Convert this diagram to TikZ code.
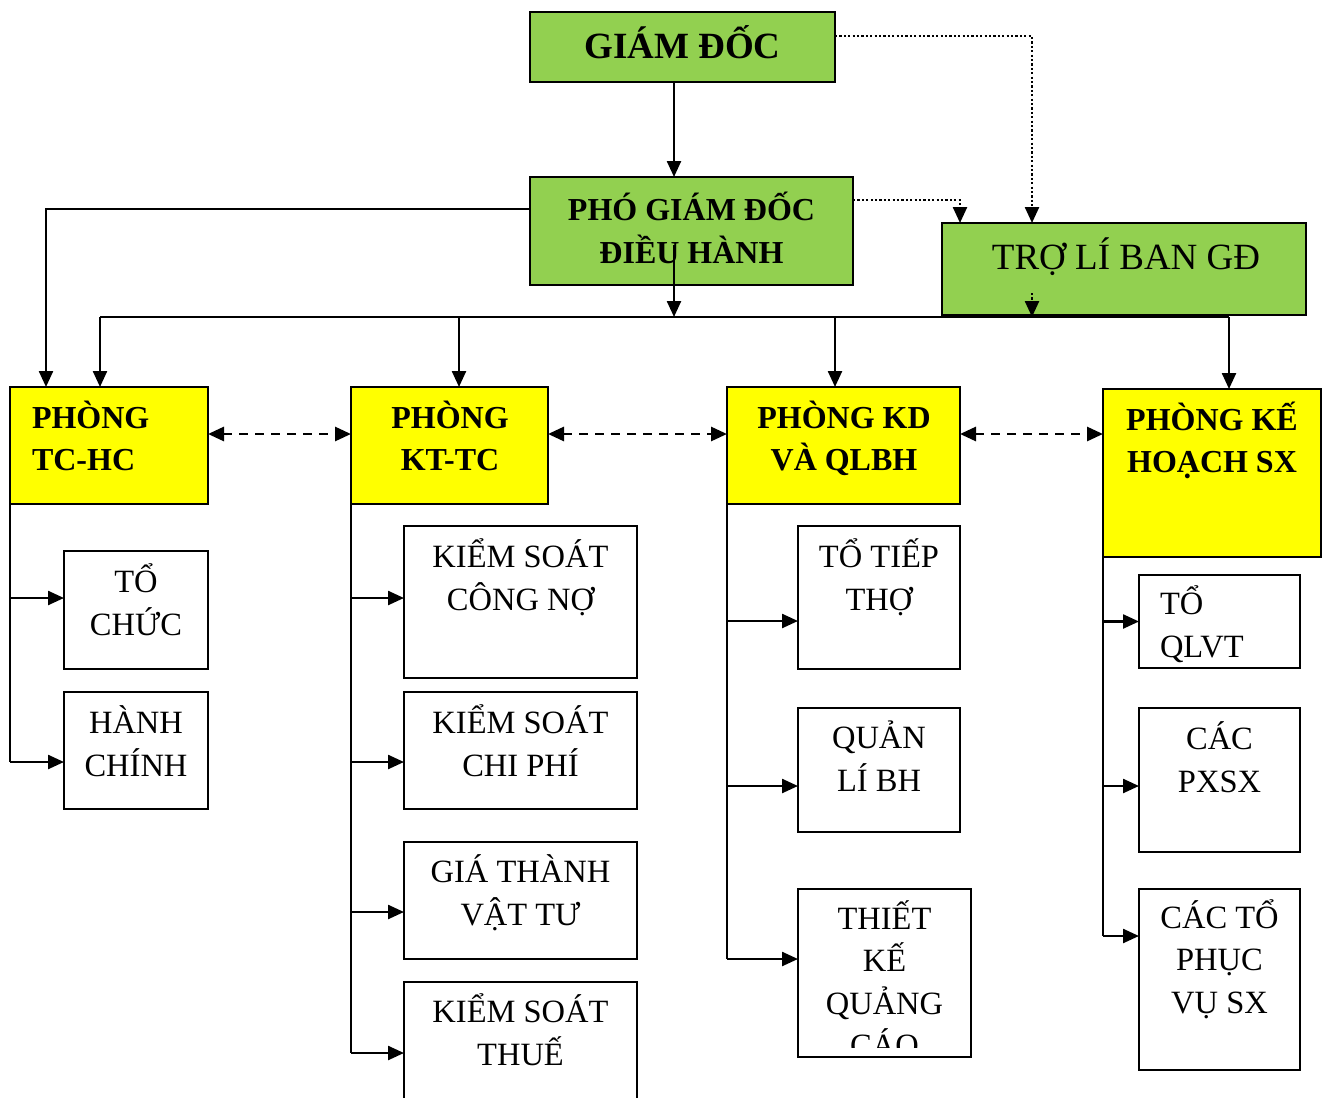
\documentclass[tikz,border=0pt]{standalone}
\usepackage{fontspec}
\setmainfont{Liberation Serif}
\usetikzlibrary{arrows.meta}
\definecolor{boxgreen}{HTML}{92D050}
\definecolor{boxyellow}{HTML}{FFFF00}

\begin{document}
\begin{tikzpicture}[x=1pt,y=-1pt,
  box/.style={draw=black, line width=2.2pt, rectangle, inner sep=0pt, outer sep=0pt, anchor=north west},
  greenbox/.style={box, fill=boxgreen},
  yellowbox/.style={box, fill=boxyellow},
  whitebox/.style={box, fill=white},
  txt/.style={inner sep=0pt, outer sep=0pt, align=center, anchor=base, font={\fontsize{32.5}{43}\selectfont}},
  hdr/.style={txt, font={\fontsize{32}{42}\selectfont\bfseries}},
  tip/.tip={Triangle[length=16pt,width=14pt]},
  conn/.style={line width=2.4pt},
  arr/.style={conn, -tip},
  dotarr/.style={line width=2.4pt, dash pattern=on 2.2pt off 2.2pt, -tip},
  dasharr/.style={line width=2.8pt, dash pattern=on 9pt off 7pt, tip-tip}]

\useasboundingbox (0,0) rectangle (1326,1098);
\fill[white] (0,0) rectangle (1326,1098);
\clip (0,0) rectangle (1326,1098);

% management level
\node[greenbox, minimum width=305pt, minimum height=70pt] (gd) at (530,12) {};
\node[greenbox, minimum width=323pt, minimum height=108pt] (pgd) at (530,177) {};
\node[greenbox, minimum width=364pt, minimum height=92pt] (tro) at (942,223) {};

% departments
\node[yellowbox, minimum width=198pt, minimum height=117pt] (tchc) at (10,387) {};
\node[yellowbox, minimum width=197pt, minimum height=117pt] (ktc) at (351,387) {};
\node[yellowbox, minimum width=233pt, minimum height=117pt] (kd) at (727,387) {};
\node[yellowbox, minimum width=218pt, minimum height=168pt] (kh) at (1103,389) {};

% units
\node[whitebox, minimum width=144pt, minimum height=118pt] (tochuc) at (64,551) {};
\node[whitebox, minimum width=144pt, minimum height=117pt] (hc) at (64,692) {};
\node[whitebox, minimum width=233pt, minimum height=152pt] (ksno) at (404,526) {};
\node[whitebox, minimum width=233pt, minimum height=117pt] (kscp) at (404,692) {};
\node[whitebox, minimum width=233pt, minimum height=117pt] (gtvt) at (404,842) {};
\node[whitebox, minimum width=233pt, minimum height=140pt] (ksthue) at (404,982) {};
\node[whitebox, minimum width=162pt, minimum height=143pt] (totiep) at (798,526) {};
\node[whitebox, minimum width=162pt, minimum height=124pt] (qlbh) at (798,708) {};
\node[whitebox, minimum width=173pt, minimum height=168pt] (tkqc) at (798,889) {};
\node[whitebox, minimum width=161pt, minimum height=93pt] (qlvt) at (1139,575) {};
\node[whitebox, minimum width=161pt, minimum height=144pt] (pxsx) at (1139,708) {};
\node[whitebox, minimum width=161pt, minimum height=181pt] (phucvu) at (1139,889) {};

% labels (each placed at the baseline of its last line)
\node[txt, font={\fontsize{37}{43}\selectfont\bfseries}] (gd-t) at (682.5,58) {GIÁM ĐỐC};
\node[hdr, font={\fontsize{32}{43}\selectfont\bfseries}] (pgd-t) at (691.5,263) {PHÓ GIÁM ĐỐC\\ĐIỀU HÀNH};
\node[txt, font={\fontsize{37}{43}\selectfont}] (tro-t) at (1126,269) {TRỢ LÍ BAN GĐ};

\node[hdr, align=left, anchor=base west] (tchc-t) at (32,470) {PHÒNG\\TC-HC};
\node[hdr] (ktc-t) at (450,470) {PHÒNG\\KT-TC};
\node[hdr] (kd-t) at (844,470) {PHÒNG KD\\VÀ QLBH};
\node[hdr] (kh-t) at (1212,472) {PHÒNG KẾ\\HOẠCH SX};

\node[txt] (tochuc-t) at (136,635) {TỔ\\CHỨC};
\node[txt] (hc-t) at (136,776) {HÀNH\\CHÍNH};
\node[txt] (ksno-t) at (520.5,610) {KIỂM SOÁT\\CÔNG NỢ};
\node[txt] (kscp-t) at (520.5,776) {KIỂM SOÁT\\CHI PHÍ};
\node[txt] (gtvt-t) at (520.5,925) {GIÁ THÀNH\\VẬT TƯ};
\node[txt] (ksthue-t) at (520.5,1065) {KIỂM SOÁT\\THUẾ};
\node[txt] (totiep-t) at (879,610) {TỔ TIẾP\\THỢ};
\node[txt] (qlbh-t) at (879,791) {QUẢN\\LÍ BH};
\begin{scope}
  \clip (798,889) rectangle (971,1047);
  \node[txt, font={\fontsize{32.5}{42.5}\selectfont}] (tkqc-t) at (884.5,1056.5) {THIẾT\\KẾ\\QUẢNG\\CÁO};
\end{scope}
\node[txt, align=left, anchor=base west] (qlvt-t) at (1160,657) {TỔ\\QLVT};
\node[txt] (pxsx-t) at (1219.5,792) {CÁC\\PXSX};
\node[txt, font={\fontsize{32.5}{42.5}\selectfont}] (phucvu-t) at (1219.5,1013) {CÁC TỔ\\PHỤC\\VỤ SX};

% top connectors
\draw[arr] ([xshift=-8.5pt]gd.south) -- ([xshift=-8.5pt]gd.south |- pgd.north);
\draw[dotarr] ([yshift=11pt]gd.east) -| ([xshift=-92pt]tro.north);
\draw[dotarr] ([yshift=31pt]pgd.east) -| ([xshift=-164pt]tro.north);
\draw[arr] ([yshift=22pt]pgd.west) -| ([xshift=-63pt]tchc.north);

% distribution bus
\coordinate (busL) at (100,317);
\coordinate (busR) at (1229,317);
\coordinate (busC) at (674,317);
\coordinate (pgdin) at (674,245);
\coordinate (troin) at (1032,293);
\coordinate (b2) at (459,317);
\coordinate (b3) at (835,317);
\draw[conn] (busL) -- (busR);
\draw[arr] (pgdin) -- (busC);
\draw[dotarr] (troin) -- (troin |- busL);
\draw[arr] (busL) -- (busL |- tchc.north);
\draw[arr] (b2) -- (b2 |- ktc.north);
\draw[arr] (b3) -- (b3 |- kd.north);
\draw[arr] (busR) -- (busR |- kh.north);

% links between departments
\coordinate (dl) at (0,434);
\draw[dasharr] (tchc.east |- dl) -- (ktc.west |- dl);
\draw[dasharr] (ktc.east |- dl) -- (kd.west |- dl);
\draw[dasharr] (kd.east |- dl) -- (kh.west |- dl);

% arrow targets on the units
\path ([yshift=12pt]tochuc.west) coordinate (a1)
      ([yshift=-11.5pt]hc.west) coordinate (a2)
      ([yshift=4pt]ksno.west) coordinate (a3)
      ([yshift=-11.5pt]kscp.west) coordinate (a4)
      ([yshift=-11.5pt]gtvt.west) coordinate (a5)
      ([yshift=-1pt]ksthue.west) coordinate (a6)
      ([yshift=-23.5pt]totiep.west) coordinate (a7)
      ([yshift=-16pt]qlbh.west) coordinate (a8)
      ([yshift=14pt]tkqc.west) coordinate (a9)
      (qlvt.west) coordinate (a10)
      ([yshift=-6pt]pxsx.west) coordinate (a11)
      ([yshift=43.5pt]phucvu.west) coordinate (a12);

% TC-HC branch
\draw[conn] (tchc.south west) -- (tchc.south west |- a2);
\draw[arr] (tchc.south west |- a1) -- (a1);
\draw[arr] (tchc.south west |- a2) -- (a2);

% KT-TC branch
\draw[conn] (ktc.south west) -- (ktc.south west |- a6);
\draw[arr] (ktc.south west |- a3) -- (a3);
\draw[arr] (ktc.south west |- a4) -- (a4);
\draw[arr] (ktc.south west |- a5) -- (a5);
\draw[arr] (ktc.south west |- a6) -- (a6);

% KD branch
\draw[conn] (kd.south west) -- (kd.south west |- a9);
\draw[arr] (kd.south west |- a7) -- (a7);
\draw[arr] (kd.south west |- a8) -- (a8);
\draw[arr] (kd.south west |- a9) -- (a9);

% KH branch
\draw[conn] (kh.south west) -- (kh.south west |- a12);
\draw[arr] (kh.south west |- a10) -- (a10);
\draw[arr] (kh.south west |- a11) -- (a11);
\draw[arr] (kh.south west |- a12) -- (a12);

\end{tikzpicture}
\end{document}
